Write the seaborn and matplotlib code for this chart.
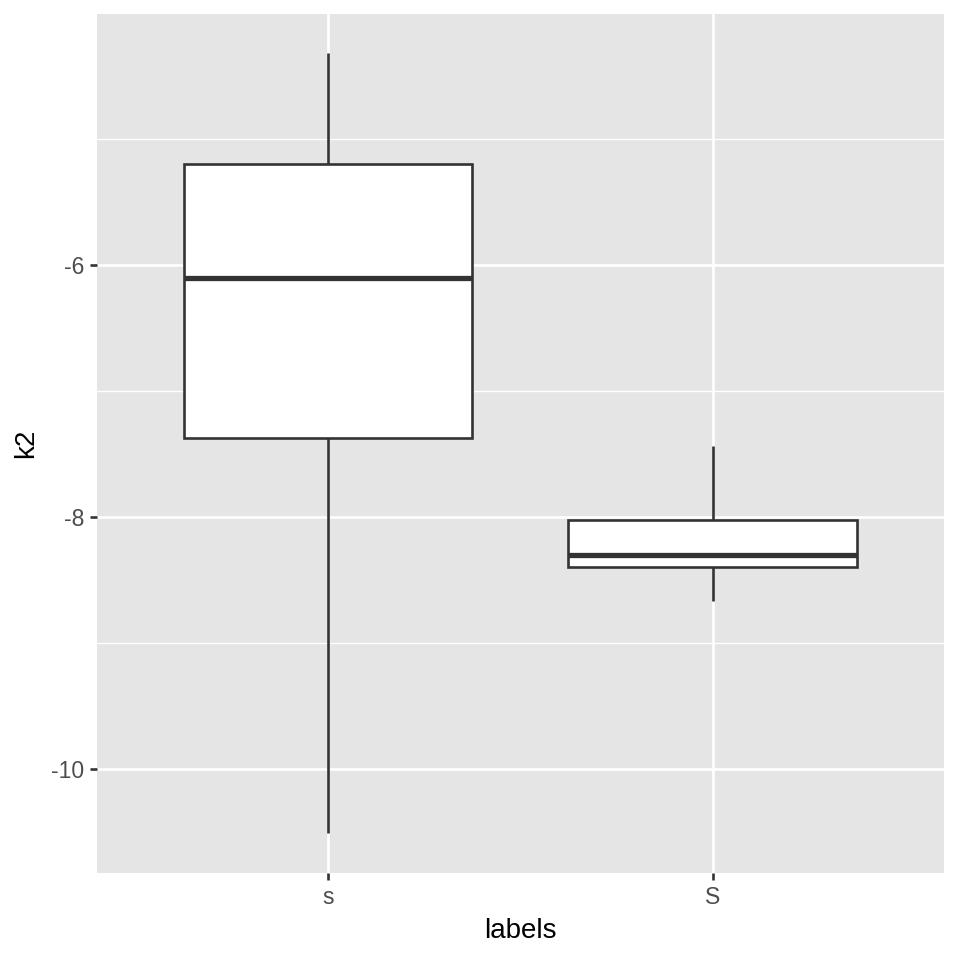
import matplotlib
matplotlib.use("Agg")
import matplotlib.pyplot as plt
import seaborn as sns
import pandas as pd
import numpy as np
from matplotlib.ticker import MultipleLocator

categories = ["s", "S"]
# five-number summaries (min, q1, median, q3, max)
values_s = [-10.51, -7.37, -6.10, -5.20, -4.32]
values_S = [-8.67, -8.40, -8.30, -8.02, -7.44]

df = pd.DataFrame({
    "labels": [categories[0]] * len(values_s) + [categories[1]] * len(values_S),
    "k2": values_s + values_S,
})

sns.set_theme(style="darkgrid")
plt.rcParams["font.family"] = ["Liberation Sans", "DejaVu Sans"]

fig = plt.figure(figsize=(9.6, 9.6), dpi=100)
ax = fig.add_axes([0.101, 0.0906, 0.882, 0.8948])
ax.set_facecolor("#E5E5E5")

sns.boxplot(
    data=df, x="labels", y="k2", order=categories, ax=ax,
    width=0.75, whis=(0, 100), color="white", fill=True,
    linecolor="#333333", linewidth=1.9,
    medianprops=dict(linewidth=3.8, color="#333333"),
    boxprops=dict(facecolor="white", edgecolor="#333333"),
    showfliers=False, showcaps=False,
)

ax.set_xlim(-0.6, 1.6)
ax.set_ylim(-10.825, -4.008)
ax.yaxis.set_minor_locator(MultipleLocator(1))
ax.set_yticks([-10, -8, -6])
ax.set_yticklabels(["-10", "-8", "-6"])

ax.grid(which="major", color="white", linewidth=1.9)
ax.grid(which="minor", axis="y", color="white", linewidth=0.95)
ax.set_axisbelow(True)
for s in ax.spines.values():
    s.set_visible(False)

ax.tick_params(axis="both", which="major", bottom=True, left=True,
               length=5, width=1.9, color="#333333",
               labelsize=16.5, labelcolor="#4D4D4D", pad=4)
ax.tick_params(axis="y", which="minor", length=0, left=False)
ax.set_xlabel("labels", fontsize=20, color="black", labelpad=7)
ax.set_ylabel("k2", fontsize=20, color="black", labelpad=9)

fig.savefig("out.png", dpi=100, facecolor="white")
